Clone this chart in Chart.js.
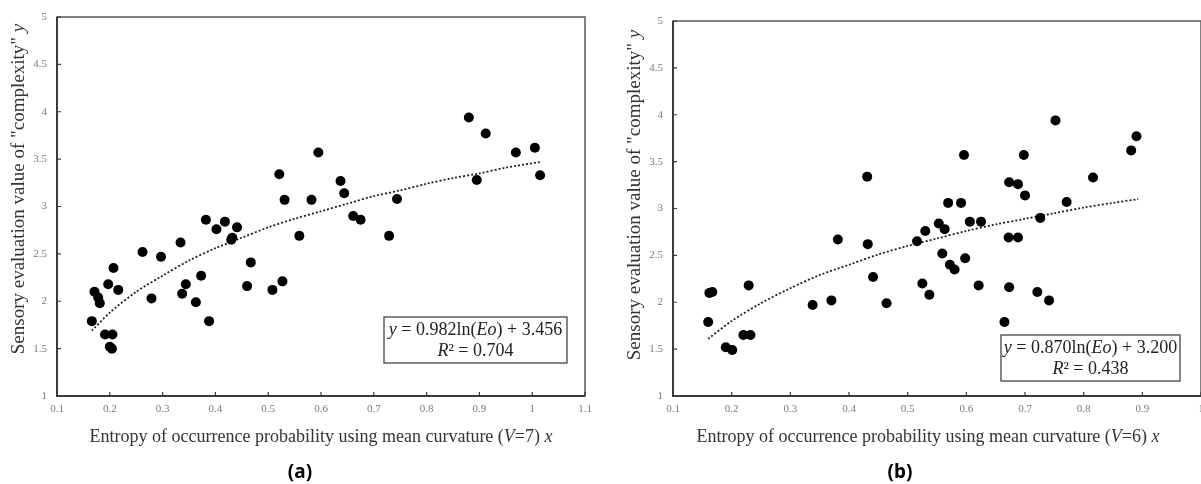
<!DOCTYPE html>
<html>
<head>
<meta charset="utf-8">
<script src="https://cdn.jsdelivr.net/npm/chart.js@4.4.1/dist/chart.umd.min.js"></script>
<style>
body { margin: 0; width: 1201px; height: 484px; overflow: hidden; background: #fff; position: relative; }
canvas { position: absolute; top: 0; }
#chart-a { left: 0; }
#chart-b { left: 600px; }
.cap { position: absolute; top: 458px; width: 600px; text-align: center; font: bold 19px "Noto Sans", sans-serif; color: #000; }
</style>
</head>
<body>
<canvas id="chart-a" width="600" height="484"></canvas>
<canvas id="chart-b" width="620" height="484"></canvas>
<div class="cap" style="left:0">(a)</div>
<div class="cap" style="left:600px">(b)</div>
<script>
const xTicksA = [0.1, 0.2, 0.3, 0.4, 0.5, 0.6, 0.7, 0.8, 0.9, 1, 1.1];
const xTicksB = [0.1, 0.2, 0.3, 0.4, 0.5, 0.6, 0.7, 0.8, 0.9, 1];
const yTicks = [1, 1.5, 2, 2.5, 3, 3.5, 4, 4.5, 5];

// (a) V=7
const entropyA = [0.166, 0.171, 0.178, 0.181, 0.197, 0.191, 0.205, 0.200, 0.204, 0.207, 0.216, 0.262, 0.279, 0.297, 0.334, 0.337, 0.344, 0.363, 0.373, 0.382, 0.388, 0.402, 0.418, 0.430, 0.432, 0.441, 0.460, 0.467, 0.508, 0.521, 0.527, 0.531, 0.559, 0.595, 0.582, 0.637, 0.644, 0.661, 0.675, 0.729, 0.744, 0.880, 0.912, 0.895, 0.969, 1.005, 1.015];
const complexityA = [1.79, 2.10, 2.04, 1.98, 2.18, 1.65, 1.65, 1.52, 1.50, 2.35, 2.12, 2.52, 2.03, 2.47, 2.62, 2.08, 2.18, 1.99, 2.27, 2.86, 1.79, 2.76, 2.84, 2.65, 2.67, 2.78, 2.16, 2.41, 2.12, 3.34, 2.21, 3.07, 2.69, 3.57, 3.07, 3.27, 3.14, 2.90, 2.86, 2.69, 3.08, 3.94, 3.77, 3.28, 3.57, 3.62, 3.33];
const trendXA = [0.166, 0.2, 0.25, 0.3, 0.35, 0.4, 0.45, 0.5, 0.55, 0.6, 0.65, 0.7, 0.75, 0.8, 0.85, 0.9, 0.95, 1.015];
const trendYA = [1.69, 1.88, 2.10, 2.27, 2.43, 2.56, 2.67, 2.78, 2.87, 2.95, 3.03, 3.11, 3.17, 3.24, 3.30, 3.35, 3.41, 3.47];

// (b) V=6
const entropyB = [0.160, 0.162, 0.167, 0.190, 0.201, 0.220, 0.232, 0.229, 0.338, 0.370, 0.381, 0.431, 0.432, 0.441, 0.464, 0.516, 0.530, 0.525, 0.537, 0.553, 0.563, 0.559, 0.572, 0.580, 0.569, 0.591, 0.596, 0.598, 0.606, 0.625, 0.621, 0.665, 0.673, 0.688, 0.672, 0.688, 0.673, 0.698, 0.700, 0.726, 0.721, 0.741, 0.752, 0.771, 0.816, 0.881, 0.890];
const complexityB = [1.79, 2.10, 2.11, 1.52, 1.49, 1.65, 1.65, 2.18, 1.97, 2.02, 2.67, 3.34, 2.62, 2.27, 1.99, 2.65, 2.76, 2.20, 2.08, 2.84, 2.78, 2.52, 2.40, 2.35, 3.06, 3.06, 3.57, 2.47, 2.86, 2.86, 2.18, 1.79, 3.28, 3.26, 2.69, 2.69, 2.16, 3.57, 3.14, 2.90, 2.11, 2.02, 3.94, 3.07, 3.33, 3.62, 3.77];
const trendXB = [0.16, 0.2, 0.25, 0.3, 0.35, 0.4, 0.45, 0.5, 0.55, 0.6, 0.65, 0.7, 0.75, 0.8, 0.85, 0.893];
const trendYB = [1.61, 1.80, 1.99, 2.15, 2.29, 2.40, 2.51, 2.60, 2.68, 2.76, 2.83, 2.89, 2.95, 3.01, 3.06, 3.10];

const SERIF = '"Liberation Serif", "Times New Roman", serif';

function toPoints(xs, ys) {
    return xs.map((x, i) => ({ x: x, y: ys[i] }));
}

// draws a line of text made of plain and italic pieces, centred on x
function richText(ctx, parts, x, y, size, color) {
    const fontOf = p => (p.i ? 'italic ' : '') + size + 'px ' + SERIF;
    let w = 0;
    parts.forEach(p => { ctx.font = fontOf(p); w += ctx.measureText(p.t).width; });
    let cx = x - w / 2;
    ctx.fillStyle = color;
    ctx.textAlign = 'left';
    ctx.textBaseline = 'middle';
    parts.forEach(p => {
        ctx.font = fontOf(p);
        ctx.fillText(p.t, cx, y);
        cx += ctx.measureText(p.t).width;
    });
}

const framePlugin = {
    id: 'frame',
    afterDraw(chart, args, o) {
        const ctx = chart.ctx;
        const a = chart.chartArea;
        const xs = chart.scales.x, ys = chart.scales.y;
        ctx.save();

        // plot box
        ctx.strokeStyle = '#5a5a5a';
        ctx.lineWidth = 1.5;
        ctx.strokeRect(a.left, a.top, a.right - a.left, a.bottom - a.top);

        // axes + inward ticks
        ctx.strokeStyle = '#3a3a3a';
        ctx.lineWidth = 2;
        ctx.beginPath();
        ctx.moveTo(a.left, a.top);
        ctx.lineTo(a.left, a.bottom);
        ctx.lineTo(a.right, a.bottom);
        ctx.stroke();
        ctx.lineWidth = 1.2;
        ctx.beginPath();
        xs.ticks.forEach(t => {
            const px = xs.getPixelForValue(t.value);
            ctx.moveTo(px, a.bottom);
            ctx.lineTo(px, a.bottom - 4);
        });
        ys.ticks.forEach(t => {
            const py = ys.getPixelForValue(t.value);
            ctx.moveTo(a.left, py);
            ctx.lineTo(a.left + 4, py);
        });
        ctx.stroke();

        // axis titles
        richText(ctx, o.xTitle, o.xTitlePos[0], o.xTitlePos[1], 18, '#333');
        ctx.save();
        ctx.translate(o.yTitlePos[0], o.yTitlePos[1]);
        ctx.rotate(-Math.PI / 2);
        richText(ctx, o.yTitle, 0, 0, 19, '#333');
        ctx.restore();

        // regression label box
        const b = o.box;
        ctx.fillStyle = '#fff';
        ctx.fillRect(b.x, b.y, b.w, b.h);
        ctx.strokeStyle = '#444';
        ctx.lineWidth = 1.3;
        ctx.strokeRect(b.x, b.y, b.w, b.h);
        richText(ctx, o.eq[0], b.x + b.w / 2, b.y + 13, 18, '#222');
        richText(ctx, o.eq[1], b.x + b.w / 2, b.y + 34, 18, '#222');
        ctx.restore();
    }
};

const yTitle = [{ t: 'Sensory evaluation value of "complexity" ' }, { t: 'y', i: true }];

function makeChart(id, p) {
    return new Chart(document.getElementById(id), {
        type: 'scatter',
        data: {
            datasets: [
                {
                    label: 'measured',
                    data: toPoints(p.xs, p.ys),
                    backgroundColor: '#000',
                    borderWidth: 0,
                    pointRadius: 5,
                },
                {
                    label: 'trend',
                    data: toPoints(p.tx, p.ty),
                    showLine: true,
                    borderColor: '#222',
                    borderWidth: 1.8,
                    borderDash: [2, 2],
                    tension: 0.3,
                    pointRadius: 0,
                },
            ]
        },
        plugins: [framePlugin],
        options: {
            responsive: false,
            animation: false,
            layout: { padding: { left: 0, top: p.top, right: p.right, bottom: 0 } },
            plugins: {
                legend: { display: false },
                tooltip: { enabled: false },
                frame: {
                    xTitle: p.xTitle,
                    yTitle: yTitle,
                    xTitlePos: p.xTitlePos,
                    yTitlePos: p.yTitlePos,
                    eq: p.eq,
                    box: p.box,
                }
            },
            scales: {
                x: {
                    type: 'linear',
                    min: p.xTicks[0],
                    max: p.xTicks[p.xTicks.length - 1],
                    afterBuildTicks: s => { s.ticks = p.xTicks.map(v => ({ value: v })); },
                    afterFit: s => { s.height = 88; },
                    grid: { display: false, drawTicks: false },
                    border: { display: false },
                    ticks: {
                        autoSkip: false,
                        maxRotation: 0,
                        padding: 7,
                        color: '#7a7a7a',
                        font: { family: SERIF, size: 11 },
                        callback: v => String(+v.toFixed(1))
                    }
                },
                y: {
                    min: 1,
                    max: 5,
                    afterBuildTicks: s => { s.ticks = yTicks.map(v => ({ value: v })); },
                    afterFit: s => { s.width = p.yWidth; },
                    grid: { display: false, drawTicks: false },
                    border: { display: false },
                    ticks: {
                        padding: 10,
                        color: '#7a7a7a',
                        font: { family: SERIF, size: 11 },
                        callback: v => String(+v.toFixed(1))
                    }
                }
            }
        }
    });
}

makeChart('chart-a', {
    xs: entropyA, ys: complexityA, tx: trendXA, ty: trendYA,
    xTicks: xTicksA,
    top: 17, right: 15, yWidth: 57,
    xTitle: [{ t: 'Entropy of occurrence probability using mean curvature (' }, { t: 'V', i: true }, { t: '=7) ' }, { t: 'x', i: true }],
    xTitlePos: [321, 437],
    yTitlePos: [19, 189],
    eq: [
        [{ t: 'y', i: true }, { t: ' = 0.982ln(' }, { t: 'Eo', i: true }, { t: ') + 3.456' }],
        [{ t: 'R', i: true }, { t: '² = 0.704' }]
    ],
    box: { x: 384, y: 317, w: 183, h: 46 }
});

makeChart('chart-b', {
    xs: entropyB, ys: complexityB, tx: trendXB, ty: trendYB,
    xTicks: xTicksB,
    top: 21, right: 19, yWidth: 73,
    xTitle: [{ t: 'Entropy of occurrence probability using mean curvature (' }, { t: 'V', i: true }, { t: '=6) ' }, { t: 'x', i: true }],
    xTitlePos: [328, 437],
    yTitlePos: [35, 195],
    eq: [
        [{ t: 'y', i: true }, { t: ' = 0.870ln(' }, { t: 'Eo', i: true }, { t: ') + 3.200' }],
        [{ t: 'R', i: true }, { t: '² = 0.438' }]
    ],
    box: { x: 401, y: 335, w: 179, h: 46 }
});
</script>
</body>
</html>
